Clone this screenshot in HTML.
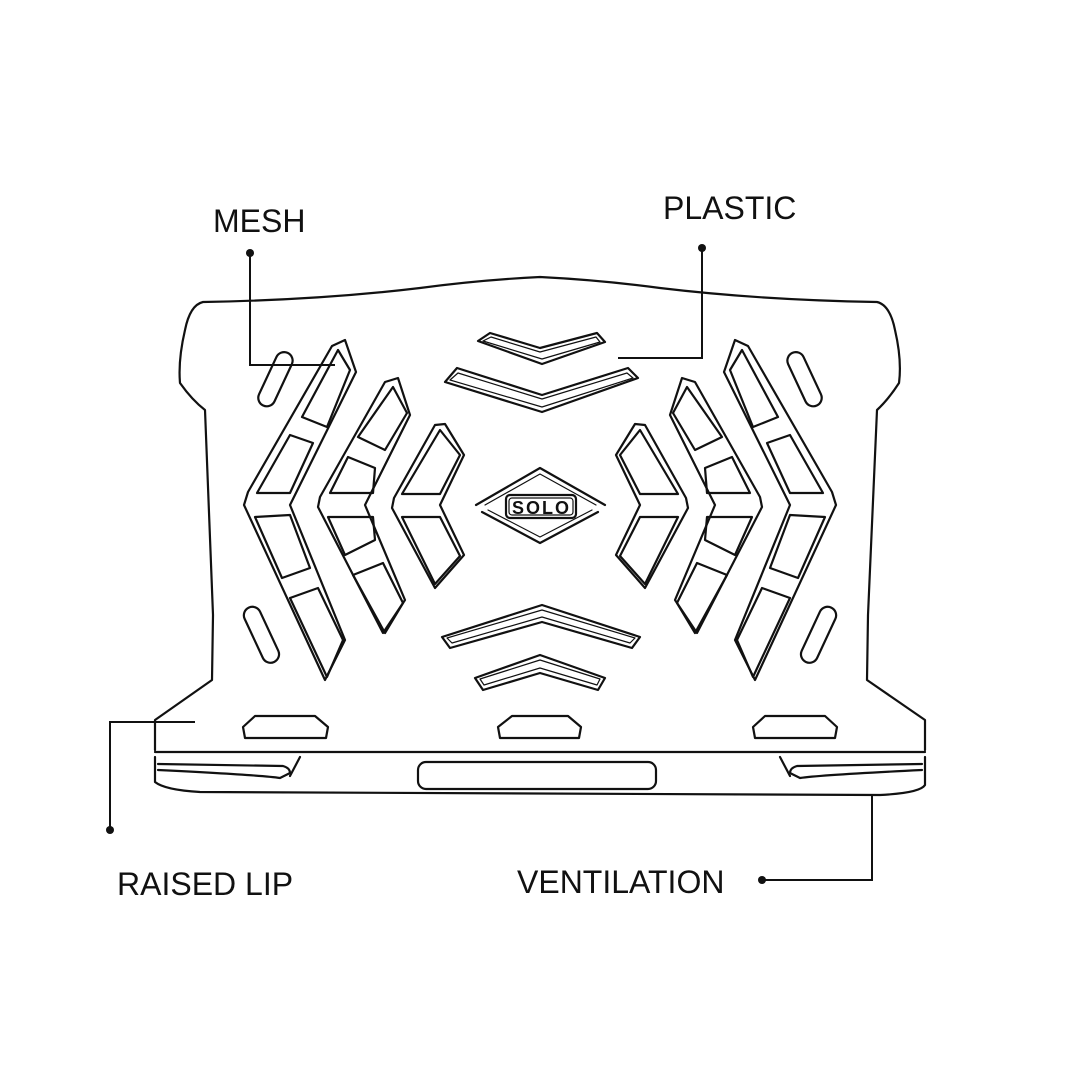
<!DOCTYPE html>
<html><head><meta charset="utf-8"><style>
html,body{margin:0;padding:0;background:#fff;}
svg{display:block}
text{font-family:"Liberation Sans",sans-serif;font-size:32px;fill:#111;letter-spacing:0px}
</style></head><body>
<svg width="1080" height="1080" viewBox="0 0 1080 1080" xmlns="http://www.w3.org/2000/svg">
<g fill="none" stroke="#111" stroke-width="2.2" stroke-linejoin="round" stroke-linecap="round">
<path d="M155,750 L155,720 L212,680 L213,615 L205,410 Q192,400 180,383 Q178,360 185,330 Q190,305 203,302 Q320,300 420,288 Q480,280 540,277 Q600,280 660,288 Q760,300 877,302 Q890,305 895,330 Q902,360 899,383 Q888,400 877,410 L868,615 L867,680 L925,720 L925,750"/>
<path d="M155,752 L925,752"/>
<path d="M155,757 L155,782 Q165,790 200,792 L880,795 Q920,793 925,785 L925,757"/>
<path d="M158,764 L283,766 Q290,768 290,773 L280,778 Q260,775 158,770"/>
<path d="M300,757 L290,776"/>
<path d="M922,764 L797,766 Q790,768 790,773 L800,778 Q820,775 922,770"/>
<path d="M780,757 L790,776"/>
<rect x="418" y="762" width="238" height="27" rx="8"/>
<path d="M255,716 L315,716 L328,727 L326,738 L245,738 L243,727 Z"/>
<path d="M512,716 L568,716 L581,727 L579,738 L500,738 L498,727 Z"/>
<path d="M765,716 L825,716 L837,727 L835,738 L755,738 L753,727 Z"/>
<path d="M478,341 L490,333 L540,348 L597,333 L605,342 L542,364 Z"/>
<path d="M483,341 L491,337 L540,352 L596,337 L600,342 L542,359 Z" stroke-width="1.2"/>
<path d="M445,382 L457,368 L542,395 L628,368 L638,378 L542,412 Z"/>
<path d="M450,380 L458,373 L542,399 L627,373 L633,378 L542,407 Z" stroke-width="1.2"/>
<path d="M442,637 L542,605 L640,637 L632,648 L542,622 L450,648 Z"/>
<path d="M447,638 L542,610 L635,638 L630,643 L542,617 L452,643 Z" stroke-width="1.2"/>
<path d="M475,678 L540,655 L605,678 L598,690 L540,673 L483,690 Z"/>
<path d="M480,679 L540,660 L600,679 L597,685 L540,668 L484,685 Z" stroke-width="1.2"/>
<path d="M476,505 L540,468 L605,505 M482,512 L540,543 L598,512"/>
<path d="M485,505 L540,474 L596,505 M488,510 L540,537 L592,510" stroke-width="1.2"/>
<rect x="506" y="495" width="70" height="23" rx="4"/>
<rect x="509" y="498" width="64" height="17" rx="3" stroke-width="1.2"/>
</g>
<text x="512" y="514" style="font-size:18px;font-weight:bold;letter-spacing:2px">SOLO</text>
<g id="L" fill="none" stroke="#111" stroke-width="2.2" stroke-linejoin="round">
<path d="M332,346 L345,340 L356,372 L290,505 L345,640 L325,680 L244,505 L248,492 Z"/>
<path d="M302,417 L327,427 L350,370 L338,350 Z"/>
<path d="M257,493 L290,493 L313,443 L290,435 Z"/>
<path d="M255,517 L290,515 L310,568 L282,578 Z"/>
<path d="M290,598 L318,588 L343,640 L327,677 Z"/>
<path d="M385,382 L398,378 L410,415 L365,505 L405,600 L383,633 L318,507 L320,497 Z"/>
<path d="M358,437 L385,450 L407,413 L393,387 Z"/>
<path d="M330,493 L373,493 L375,468 L348,457 Z"/>
<path d="M328,517 L373,517 L375,540 L345,555 Z"/>
<path d="M353,575 L383,563 L403,603 L385,633 Z"/>
<path d="M435,425 L445,424 L464,455 L440,505 L464,555 L435,588 L392,508 L394,498 Z"/>
<path d="M402,494 L440,494 L460,455 L440,430 Z"/>
<path d="M402,517 L440,517 L460,556 L435,584 Z"/>
<rect x="267" y="350" width="17" height="58" rx="8.5" transform="rotate(25 275 379)"/>
<rect x="253" y="605" width="17" height="60" rx="8.5" transform="rotate(-25 261 635)"/>
</g>
<use href="#L" transform="translate(1080,0) scale(-1,1)"/>
<g fill="none" stroke="#111" stroke-width="2">
<path d="M250,253 L250,365 L335,365"/>
<path d="M702,248 L702,358 L618,358"/>
<path d="M110,830 L110,722 L195,722"/>
<path d="M762,880 L872,880 L872,795"/>
</g>
<g fill="#111">
<circle cx="250" cy="253" r="4"/><circle cx="702" cy="248" r="4"/>
<circle cx="110" cy="830" r="4"/><circle cx="762" cy="880" r="4"/>
</g>
<text x="213" y="232">MESH</text>
<text x="663" y="219">PLASTIC</text>
<text x="117" y="895">RAISED LIP</text>
<text x="517" y="893">VENTILATION</text>
</svg>
</body></html>
